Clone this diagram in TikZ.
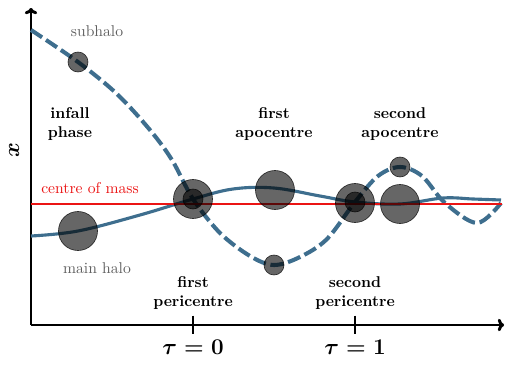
\documentclass[tikz,border=0pt]{standalone}
\usepackage{amsmath,amssymb,bm}
\usetikzlibrary{arrows.meta,positioning}
\definecolor{orbit}{RGB}{62,110,142}
\definecolor{grey}{RGB}{95,95,95}
\definecolor{com}{RGB}{235,20,20}
\tikzset{
  halo/.style={circle,draw=black,draw opacity=0.75,fill=black,fill opacity=0.6,
    inner sep=0pt,minimum size=25pt,line width=0.4pt},
  sub/.style={halo,minimum size=12.8pt},
  ax/.style={line width=1.9pt,-{To[length=4pt,width=8pt]}},
  phase/.style={font=\bfseries,align=center,inner sep=1pt},
  tag/.style={text=grey,inner sep=1pt},
  tick/.style={font=\Large\boldmath,inner sep=1pt},
}

\begin{document}
\begin{tikzpicture}[x=0.64pt,y=-0.64pt]
  \useasboundingbox (0,0) rectangle (514,364);

  % axes
  \coordinate (O) at (31,325);
  \coordinate (ytop) at (31,8);
  \coordinate (xend) at (504,325);
  \draw[ax] (O) -- (ytop);
  \draw[ax] (O) -- (xend);
  \node[rotate=90,font=\Large\boldmath] (xlab) at (14,150) {$x$};

  % pericentre ticks
  \coordinate (t0) at (193,325);
  \coordinate (t1) at (355,325);
  \draw[line width=1.6pt] ([yshift=6]t0) -- ([yshift=-6]t0);
  \draw[line width=1.6pt] ([yshift=6]t1) -- ([yshift=-6]t1);
  \node[tick] (tau0) at (193,347) {$\tau=0$};
  \node[tick] (tau1) at (355,347) {$\tau=1$};

  % orbits
  \draw[orbit,line width=2.6pt,dash pattern=on 8.5pt off 3pt]
    plot[smooth,tension=0.55] coordinates {(31,30) (78,62) (117,94) (150,130)
      (172,160) (193,199) (220,233) (250,256) (274,265) (300,257) (327,239)
      (355,202) (378,176) (400,167) (422,176) (445,203) (477,223) (501,203)};
  \draw[orbit,line width=2pt]
    plot[smooth,tension=0.6] coordinates {(31,236) (78,231) (140,215) (193,199)
      (233,189) (274,188) (320,196) (355,202) (400,204) (443,198) (473,199) (501,200)};

  % centre of mass
  \coordinate (cmL) at (31,204);
  \coordinate (cmR) at (502,204);
  \draw[com,line width=1.4pt] (cmL) -- (cmR);
  \node[text=com,inner sep=1pt] (cmlab) at (90,188) {centre of mass};

  % haloes along the orbit
  \node[sub]  (s0) at (78,62) {};
  \node[halo] (m0) at (78,231) {};
  \node[halo] (m1) at (193,199) {};
  \node[sub]  (s1) at (193,199) {};
  \node[halo] (m2) at (275,190) {};
  \node[sub]  (s2) at (274,265) {};
  \node[halo] (m3) at (355,203) {};
  \node[sub]  (s3) at (355,202) {};
  \node[halo] (m4) at (400,204) {};
  \node[sub]  (s4) at (400,167) {};

  \node[tag] (subl) at (97,31) {subhalo};
  \node[tag] (mainl) at (97,268) {main halo};

  % phases
  \node[phase] (infall) at (70,124) {infall\\phase};
  \node[phase] (apo1) at (274,124) {first\\apocentre};
  \node[phase] (apo2) at (400,124) {second\\apocentre};
  \node[phase] (peri1) at (193,293) {first\\pericentre};
  \node[phase] (peri2) at (355,293) {second\\pericentre};
\end{tikzpicture}
\end{document}
